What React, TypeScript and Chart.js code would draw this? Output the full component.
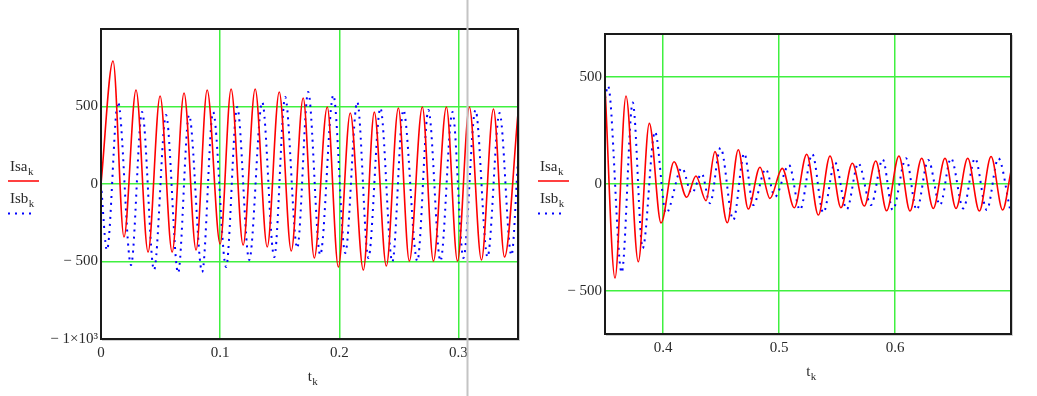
import React, { useEffect, useRef } from "react";
import { Chart, registerables } from "chart.js";

Chart.register(...registerables);

// ---------- Left panel data (t from 0 to 0.35) ----------
const leftIsaT = [
  0, 0.0101, 0.0193, 0.0294, 0.0395, 0.0496, 0.0597, 0.0697, 0.0798, 0.0891,
  0.1, 0.1092, 0.1193, 0.1294, 0.1395, 0.1496, 0.1597, 0.1697, 0.179, 0.1899,
  0.1992, 0.2092, 0.2202, 0.2294, 0.2395, 0.2496, 0.2588, 0.2697, 0.279, 0.2899,
  0.2992, 0.3092, 0.3193, 0.3294, 0.3387, 0.35,
];
const leftIsa = [
  0, 794, -342, 606, -439, 568, -439, 587, -426, 606,
  -387, 613, -394, 613, -406, 594, -432, 555, -477, 497,
  -535, 458, -555, 464, -529, 490, -497, 497, -497, 497,
  -497, 497, -490, 484, -471, 456,
];
const leftIsbT = [
  0, 0.005, 0.0143, 0.0252, 0.0345, 0.0445, 0.0546, 0.0647, 0.0739, 0.0849,
  0.0941, 0.105, 0.1143, 0.1244, 0.1353, 0.1454, 0.1546, 0.1647, 0.1739, 0.184,
  0.195, 0.205, 0.2151, 0.2244, 0.2345, 0.2445, 0.2538, 0.2655, 0.2748, 0.2849,
  0.295, 0.3042, 0.3143, 0.3244, 0.3345, 0.3445, 0.35,
];
const leftIsb = [
  0, -426, 529, -523, 465, -555, 445, -574, 445, -568,
  465, -535, 497, -490, 529, -471, 561, -413, 594, -458,
  574, -445, 529, -477, 490, -503, 477, -497, 477, -497,
  465, -477, 477, -471, 458, -460, 150,
];

// ---------- Right panel data (t from 0.35 to 0.7) ----------
const rightIsaT = [
  0.35, 0.3586, 0.3681, 0.3787, 0.3882, 0.3983, 0.4095, 0.4204, 0.4284, 0.4371,
  0.4448, 0.4554, 0.4649, 0.4735, 0.4836, 0.4922, 0.5028, 0.5132, 0.5239, 0.5339,
  0.544, 0.5534, 0.5632, 0.5735, 0.5834, 0.5928, 0.6034, 0.6129, 0.623, 0.633,
  0.6431, 0.6526, 0.6627, 0.6727, 0.6828, 0.6928, 0.7,
];
const rightIsa = [
  453, -439, 411, -363, 283, -182, 104, -62, 37, -78,
  151, -181, 160, -117, 78, -67, 73, -111, 139, -145,
  131, -111, 97, -103, 107, -125, 131, -126, 120, -114,
  120, -114, 120, -126, 128, -121, 60,
];
const rightIsbT = [
  0.35, 0.3526, 0.3644, 0.3739, 0.3825, 0.3931, 0.4026, 0.4164, 0.4247, 0.4334,
  0.4405, 0.4496, 0.4606, 0.4701, 0.4778, 0.4885, 0.4966, 0.5086, 0.5181, 0.5287,
  0.5382, 0.5483, 0.5584, 0.5684, 0.5793, 0.5894, 0.598, 0.6095, 0.6187, 0.6287,
  0.6388, 0.6483, 0.6589, 0.669, 0.6791, 0.6891, 0.6991,
];
const rightIsb = [
  400, 458, -414, 380, -300, 244, -137, 75, -44, 48,
  -90, 169, -168, 143, -98, 70, -59, 89, -121, 140,
  -134, 100, -118, 97, -98, 115, -121, 120, -121, 112,
  -98, 120, -114, 120, -121, 120, -115,
];

// ---------- Axes / labels ----------
const leftXRange = [0, 0.35];
const leftYRange = [-1000, 1000];
const leftXTicks = [0, 0.1, 0.2, 0.3];
const leftXTickLabels = ["0", "0.1", "0.2", "0.3"];
const leftYTicks = [-1000, -500, 0, 500];
const leftYTickLabels = ["\u2212 1\u00d710\u00b3", "\u2212 500", "0", "500"];

const rightXRange = [0.35, 0.7];
const rightYRange = [-700, 700];
const rightXTicks = [0.4, 0.5, 0.6];
const rightXTickLabels = ["0.4", "0.5", "0.6"];
const rightYTicks = [-500, 0, 500];
const rightYTickLabels = ["\u2212 500", "0", "500"];

const seriesNames = ["Isa", "Isb"];
const indexName = "k";
const xName = "t";
const cursorT = 0.307;

const SERIF = "'Liberation Serif', 'DejaVu Serif', serif";
const GREEN = "rgb(64,240,64)";
const TEXT = "#2a2a2a";

function drawSub(ctx: CanvasRenderingContext2D, main: string, sub: string, x: number, y: number, align: "left" | "center") {
  ctx.save();
  ctx.fillStyle = TEXT;
  ctx.textBaseline = "alphabetic";
  ctx.textAlign = "left";
  ctx.font = `15px ${SERIF}`;
  const mw = ctx.measureText(main).width;
  ctx.font = `11px ${SERIF}`;
  const sw = ctx.measureText(sub).width;
  const x0 = align === "center" ? x - (mw + sw) / 2 : x;
  ctx.font = `15px ${SERIF}`;
  ctx.fillText(main, x0, y);
  ctx.font = `11px ${SERIF}`;
  ctx.fillText(sub, x0 + mw + 0.5, y + 4);
  ctx.restore();
}

type PanelProps = {
  left: number;
  width: number;
  yAxisWidth: number;
  xAxisHeight: number;
  padTop: number;
  padRight: number;
  legendOffset: number;
  xRange: number[];
  yRange: number[];
  xTicks: number[];
  xTickLabels: string[];
  yTicks: number[];
  yTickLabels: string[];
  isaT: number[];
  isa: number[];
  isbT: number[];
  isb: number[];
  cursor?: number;
};

function Panel(p: PanelProps) {
  const ref = useRef<HTMLCanvasElement>(null);
  const H = 396;
  useEffect(() => {
    const deco = {
      id: "deco",
      afterDraw(chart: any) {
        const ctx: CanvasRenderingContext2D = chart.ctx;
        const a = chart.chartArea;
        // frame
        ctx.save();
        ctx.strokeStyle = "#1a1a1a";
        ctx.lineWidth = 2;
        ctx.strokeRect(a.left, a.top, a.right - a.left, a.bottom - a.top);
        ctx.strokeStyle = "rgba(0,0,0,0.18)";
        ctx.lineWidth = 1;
        ctx.beginPath();
        ctx.moveTo(a.right + 1.5, a.top + 1);
        ctx.lineTo(a.right + 1.5, a.bottom + 1.5);
        ctx.lineTo(a.left + 1, a.bottom + 1.5);
        ctx.stroke();
        ctx.restore();
        // legend
        const mid = (a.top + a.bottom) / 2;
        const lx = a.left - p.legendOffset;
        drawSub(ctx, seriesNames[0], indexName, lx + 2, mid - 13, "left");
        ctx.save();
        ctx.strokeStyle = "#ff0000";
        ctx.lineWidth = 1.5;
        ctx.beginPath();
        ctx.moveTo(lx, mid - 3);
        ctx.lineTo(lx + 31, mid - 3);
        ctx.stroke();
        ctx.restore();
        drawSub(ctx, seriesNames[1], indexName, lx + 2, mid + 19, "left");
        ctx.save();
        ctx.strokeStyle = "#0000ff";
        ctx.lineWidth = 2;
        ctx.setLineDash([2, 5]);
        ctx.beginPath();
        ctx.moveTo(lx, mid + 29.5);
        ctx.lineTo(lx + 27, mid + 29.5);
        ctx.stroke();
        ctx.restore();
        // x title
        drawSub(ctx, xName, indexName, (a.left + a.right) / 2 + 3, a.bottom + 42, "center");
        // cursor line
        if (p.cursor !== undefined) {
          const cx = Math.round(chart.scales.x.getPixelForValue(p.cursor)) + 0.5;
          ctx.save();
          ctx.strokeStyle = "#c4c4c4";
          ctx.lineWidth = 2;
          ctx.beginPath();
          ctx.moveTo(cx, 0);
          ctx.lineTo(cx, chart.height);
          ctx.stroke();
          ctx.restore();
        }
      },
    };
    const chart = new Chart(ref.current as HTMLCanvasElement, {
      type: "line",
      data: {
        datasets: [
          {
            label: seriesNames[0],
            data: p.isaT.map((t, i) => ({ x: t, y: p.isa[i] })),
            borderColor: "#ff0000",
            borderWidth: 1.6,
            pointRadius: 0,
            cubicInterpolationMode: "monotone",
            fill: false,
          },
          {
            label: seriesNames[1],
            data: p.isbT.map((t, i) => ({ x: t, y: p.isb[i] })),
            borderColor: "#0000ff",
            borderWidth: 2,
            borderDash: [2, 5],
            pointRadius: 0,
            cubicInterpolationMode: "monotone",
            fill: false,
          },
        ],
      },
      options: {
        animation: false,
        responsive: false,
        devicePixelRatio: 1,
        events: [],
        layout: { padding: { top: p.padTop, right: p.padRight, left: 0, bottom: 0 } },
        plugins: { legend: { display: false }, tooltip: { enabled: false } },
        scales: {
          x: {
            type: "linear",
            min: p.xRange[0],
            max: p.xRange[1],
            afterFit: (s: any) => {
              s.height = p.xAxisHeight;
            },
            afterBuildTicks: (s: any) => {
              s.ticks = p.xTicks.map((v) => ({ value: v }));
            },
            grid: { color: GREEN, lineWidth: 1.5, drawTicks: false },
            border: { display: false },
            ticks: {
              callback: (_v: any, i: number) => p.xTickLabels[i],
              font: { family: SERIF, size: 15 },
              color: TEXT,
              padding: 5,
              maxRotation: 0,
              autoSkip: false,
            },
          },
          y: {
            type: "linear",
            min: p.yRange[0],
            max: p.yRange[1],
            afterFit: (s: any) => {
              s.width = p.yAxisWidth;
            },
            afterBuildTicks: (s: any) => {
              s.ticks = p.yTicks.map((v) => ({ value: v }));
            },
            grid: { color: GREEN, lineWidth: 1.5, drawTicks: false },
            border: { display: false },
            ticks: {
              callback: (_v: any, i: number) => p.yTickLabels[i],
              font: { family: SERIF, size: 15 },
              color: TEXT,
              padding: 3,
              autoSkip: false,
            },
          },
        },
      } as any,
      plugins: [deco],
    });
    return () => chart.destroy();
  }, []);
  return (
    <canvas
      ref={ref}
      width={p.width}
      height={H}
      style={{ position: "absolute", left: p.left, top: 0, width: p.width, height: H }}
    />
  );
}

export default function App() {
  return (
    <div style={{ position: "absolute", left: 0, top: 0, width: 1037, height: 396, background: "#fff", overflow: "hidden" }}>
      <Panel
        left={0}
        width={525}
        yAxisWidth={101}
        xAxisHeight={57}
        padTop={29}
        padRight={7}
        legendOffset={93}
        xRange={leftXRange}
        yRange={leftYRange}
        xTicks={leftXTicks}
        xTickLabels={leftXTickLabels}
        yTicks={leftYTicks}
        yTickLabels={leftYTickLabels}
        isaT={leftIsaT}
        isa={leftIsa}
        isbT={leftIsbT}
        isb={leftIsb}
        cursor={cursorT}
      />
      <Panel
        left={525}
        width={512}
        yAxisWidth={80}
        xAxisHeight={62}
        padTop={34}
        padRight={26}
        legendOffset={67}
        xRange={rightXRange}
        yRange={rightYRange}
        xTicks={rightXTicks}
        xTickLabels={rightXTickLabels}
        yTicks={rightYTicks}
        yTickLabels={rightYTickLabels}
        isaT={rightIsaT}
        isa={rightIsa}
        isbT={rightIsbT}
        isb={rightIsb}
      />
    </div>
  );
}
